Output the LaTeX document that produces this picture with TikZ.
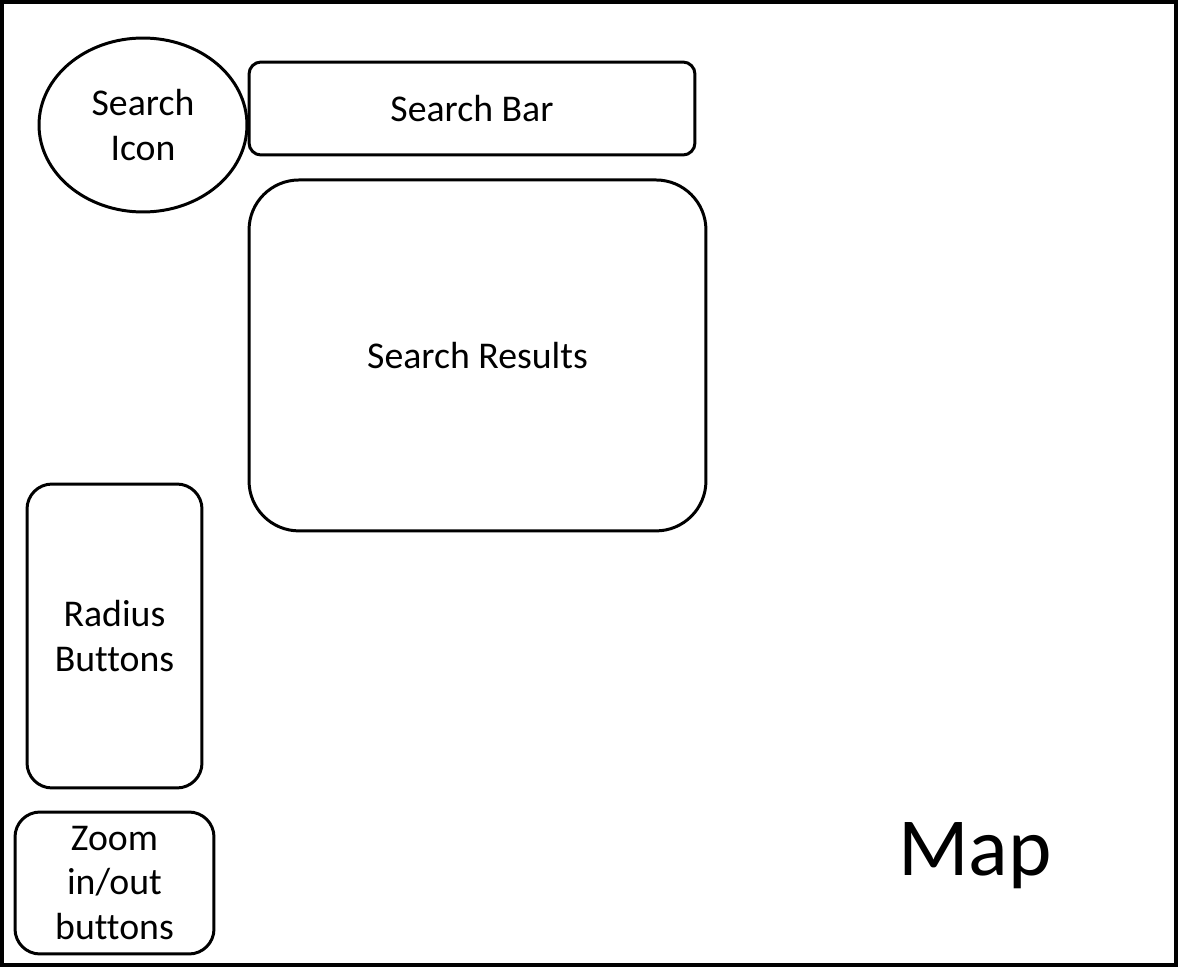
\documentclass[tikz,border=0pt]{standalone}
\usepackage{fontspec}
\setmainfont{Carlito}[Ligatures=NoCommon]
\usetikzlibrary{positioning}
\usetikzlibrary{shapes.geometric}

\tikzset{
  part/.style={draw,line width=1.7pt,align=center,inner sep=0pt,font=\fontsize{21.5}{25.5}\selectfont},
  roundbox/.style={part,rectangle,rounded corners=#1},
}

\begin{document}
\begin{tikzpicture}[x=0.02cm,y=-0.02cm]
	\useasboundingbox (0,0) rectangle (1178,967);
	\draw[line width=2.3pt] (2,2) rectangle (1176,965);

	\node[part,ellipse,minimum width=4.16cm,minimum height=3.48cm](icon) at (143,125) {Search\\Icon};
	\node[roundbox=0.24cm,minimum width=8.92cm,minimum height=1.86cm](bar) at (472,108.5) {Search Bar};
	\node[roundbox=1cm,minimum width=9.14cm,minimum height=7.02cm,below right=0.44cm and 0cm of bar.south west](results) {Search Results};
	\node[roundbox=0.5cm,minimum width=3.5cm,minimum height=6.08cm](radius) at (114.5,636) {Radius\\Buttons};
	\node[roundbox=0.5cm,minimum width=3.98cm,minimum height=2.84cm](zoom) at (114.5,883) {Zoom\\in/out\\buttons};
	\node[anchor=base,font=\fontsize{47}{56}\selectfont](map) at (975,875) {Map};
\end{tikzpicture}
\end{document}
